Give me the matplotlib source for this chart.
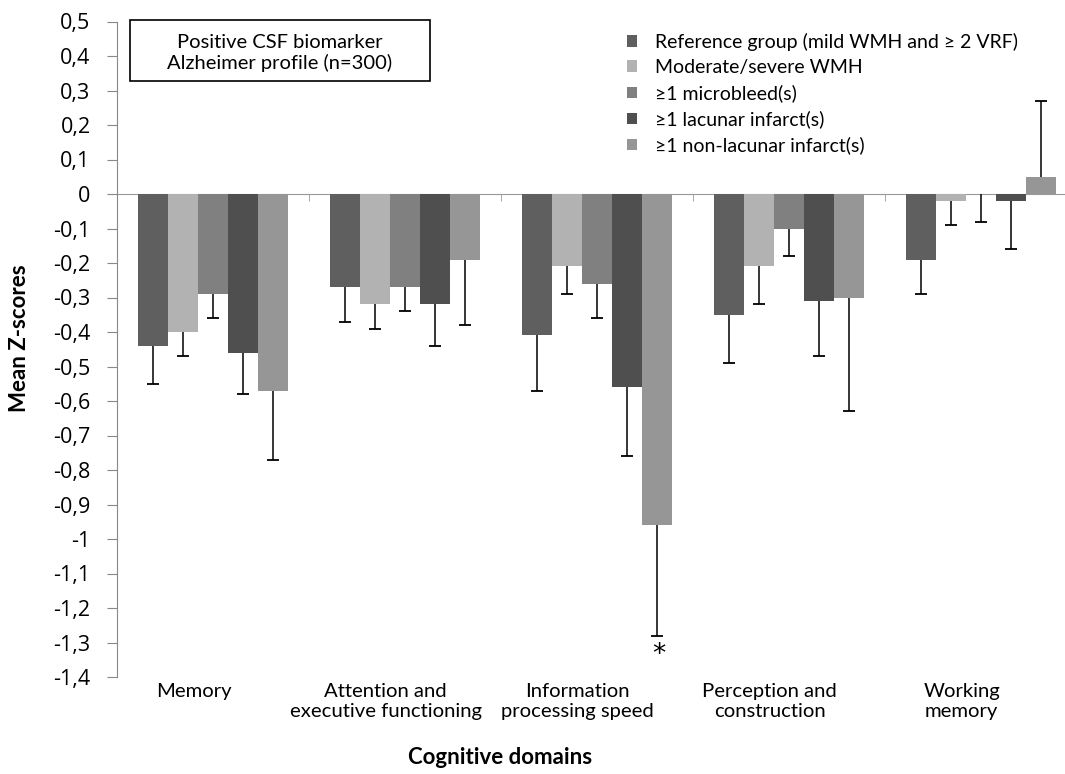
import matplotlib
matplotlib.use("Agg")
import matplotlib.pyplot as plt
from matplotlib.patches import Rectangle
import numpy as np

categories = ["Memory", "Attention and\nexecutive functioning", "Information\nprocessing speed",
              "Perception and\nconstruction", "Working\nmemory"]
series_names = ["Reference group (mild WMH and \u2265 2 VRF)", "Moderate/severe WMH",
                "\u22651 microbleed(s)", "\u22651 lacunar infarct(s)", "\u22651 non-lacunar infarct(s)"]
means = {
    "ref":       [-0.44, -0.27, -0.41, -0.35, -0.19],
    "wmh":       [-0.40, -0.32, -0.21, -0.21, -0.02],
    "micro":     [-0.29, -0.27, -0.26, -0.10, 0.00],
    "lacunar":   [-0.46, -0.32, -0.56, -0.31, -0.02],
    "nonlac":    [-0.57, -0.19, -0.96, -0.30, 0.05],
}
errors = {
    "ref":       [0.11, 0.10, 0.16, 0.14, 0.10],
    "wmh":       [0.07, 0.07, 0.08, 0.11, 0.07],
    "micro":     [0.07, 0.07, 0.10, 0.08, 0.08],
    "lacunar":   [0.12, 0.12, 0.20, 0.16, 0.14],
    "nonlac":    [0.20, 0.19, 0.32, 0.33, 0.22],
}
colors = ["#5f5f5f", "#b2b2b2", "#808080", "#4f4f4f", "#969696"]
yticks = np.round(np.arange(-1.4, 0.51, 0.1), 1)

W, H = 1065, 774
fig = plt.figure(figsize=(W/100, H/100), dpi=100)
ax = fig.add_axes([117/W, 1-677/H, 960/W, (677-21.5)/H])

x = np.arange(len(categories))
w = 0.156
keys = list(means.keys())
for k, key in enumerate(keys):
    vals = np.array(means[key])
    errs = np.array(errors[key])
    lower = np.where(vals <= 0, errs, 0)
    upper = np.where(vals > 0, errs, 0)
    xs = x + (k-2)*w
    ax.bar(xs, vals, width=w, color=colors[k], label=series_names[k], zorder=2)
    ax.errorbar(xs, vals, yerr=[lower, upper], fmt="none", ecolor="black",
                elinewidth=1.1, capsize=0, zorder=3)
    ends = np.where(vals <= 0, vals - errs, vals + errs)
    ax.plot(xs, ends, linestyle="none", marker="_", markersize=9, markeredgewidth=1.3,
            color="black", zorder=3)

ax.set_ylim(-1.4, 0.5)
ax.set_xlim(-0.5, 4.5)
ax.set_yticks(yticks)
ax.set_yticklabels([("%g" % v).replace(".", ",") if v != 0 else "0" for v in yticks])
ax.tick_params(axis="y", direction="out", length=7, color="#888888", pad=12,
               labelsize=15.5, labelfontfamily="Open Sans")

ax.spines["top"].set_visible(False)
ax.spines["right"].set_visible(False)
ax.spines["left"].set_color("#888888")
ax.spines["bottom"].set_position(("data", 0))
ax.spines["bottom"].set_color("#999999")
ax.spines["bottom"].set_zorder(1)

ax.set_xticks(np.arange(-0.5, 5.0, 1.0), minor=True)
ax.set_xticks([])
ax.tick_params(axis="x", which="minor", direction="out", length=5, color="#999999")
for i, c in enumerate(categories):
    ax.text(i - 0.1, -1.418, c, ha="center", va="top", fontsize=14.6, family="Lato",
            linespacing=1.22)

ax.text(2.32, -1.335, "*", ha="center", va="center", fontsize=19, family="DejaVu Sans")

fig.text(20/W, 1-338/H, "Mean Z-scores", rotation=90, ha="center", va="center",
         fontsize=16, fontweight="bold", family="Lato")
fig.text(500/W, 1-757/H, "Cognitive domains", ha="center", va="center",
         fontsize=16, fontweight="bold", family="Lato")

fig.patches.append(Rectangle((130/W, 1-81/H), 300/W, 61/H, transform=fig.transFigure,
                             facecolor="white", edgecolor="black", linewidth=1.2, zorder=5))
fig.text(280/W, 1-53/H, "Positive CSF biomarker\nAlzheimer profile (n=300)",
         ha="center", va="center", fontsize=14.5, family="Lato", linespacing=1.25, zorder=6)

leg = ax.legend(loc="upper left", bbox_to_anchor=((609-117)/960, 1.0 + 6/655),
                frameon=False, handlelength=0.55, handleheight=0.55,
                handletextpad=0.9, labelspacing=0.42, prop={"family": "Lato", "size": 14})

fig.savefig("out.png", dpi=100)
